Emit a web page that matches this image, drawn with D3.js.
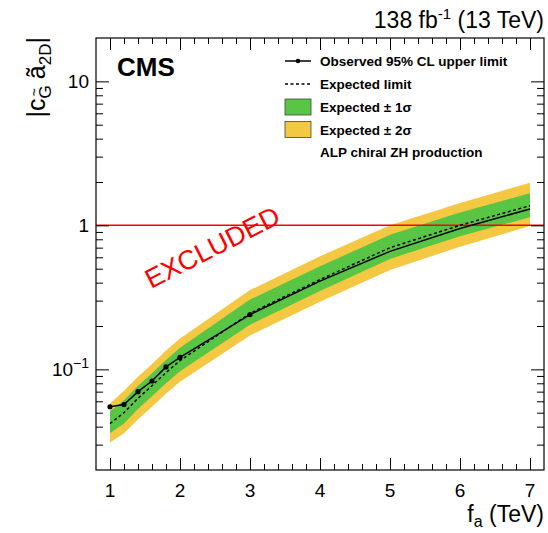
<!DOCTYPE html>
<html>
<head>
<meta charset="utf-8">
<script src="https://cdn.jsdelivr.net/npm/d3@7"></script>
<style>
  body { margin: 0; background: #fff; }
  svg { font-family: "Liberation Sans", Arial, Helvetica, sans-serif; }
</style>
</head>
<body>
<svg id="chart" width="548" height="533"></svg>
<script>
// f_a points (TeV) and limits on |c a_2D|
const faPoints = [1.0, 1.2, 1.4, 1.6, 1.8, 2.0, 3.0, 4.0, 5.0, 6.0, 7.0];
const observed = [0.055, 0.057, 0.070, 0.083, 0.104, 0.121, 0.240, 0.41, 0.66, 0.95, 1.30];
const expected = [0.042, 0.050, 0.063, 0.077, 0.095, 0.115, 0.245, 0.42, 0.70, 1.00, 1.37];
const minus2s  = [0.031, 0.036, 0.045, 0.055, 0.068, 0.082, 0.172, 0.295, 0.49, 0.71, 0.99];
const minus1s  = [0.036, 0.042, 0.053, 0.065, 0.080, 0.097, 0.204, 0.350, 0.585, 0.84, 1.14];
const plus1s   = [0.051, 0.061, 0.077, 0.094, 0.116, 0.141, 0.305, 0.52, 0.86, 1.23, 1.67];
const plus2s   = [0.058, 0.071, 0.089, 0.109, 0.135, 0.164, 0.355, 0.61, 1.00, 1.43, 1.98];
// only the low-mass points carry a visible marker
const markedPoints = [1.0, 1.2, 1.4, 1.6, 1.8, 2.0, 3.0];

const xMajorTicks = [1, 2, 3, 4, 5, 6, 7];
const yMajorTicks = [0.1, 1, 10];
const yTickLabels = ["10|−1", "1", "10"];
const legendLabels = ["Observed 95% CL upper limit", "Expected limit", "Expected ± 1σ", "Expected ± 2σ", "ALP chiral ZH production"];

const green = "#58c545", yellow = "#f5c843";

const svg = d3.select("#chart");
const mLeft = 96, mRight = 544, mTop = 38, mBottom = 470;

let x = d3.scaleLinear().domain([0.8, 7.2]).range([mLeft, mRight]);
let y = d3.scaleLog().domain([0.02, 20]).range([mBottom, mTop]);

let xMinor = d3.range(0.8, 7.2, 0.2).map(v => +v.toFixed(1)).filter(v => v > 0.85 && !xMajorTicks.includes(v));
let yMinor = [];
[0.01, 0.1, 1, 10].forEach(d => { for (let k = 2; k <= 9; k++) { let v = +(d * k).toPrecision(2); if (v > 0.02 && v < 20) yMinor.push(v); } });

svg.append("clipPath").attr("id", "frameClip")
  .append("rect").attr("x", mLeft).attr("y", mTop).attr("width", mRight - mLeft).attr("height", mBottom - mTop);

let plot = svg.append("g").attr("clip-path", "url(#frameClip)");
let rows = faPoints.map((f, i) => ({f, obs: observed[i], exp: expected[i], m2: minus2s[i], m1: minus1s[i], p1: plus1s[i], p2: plus2s[i]}));

// bands
plot.append("path").datum(rows)
  .attr("fill", yellow)
  .attr("d", d3.area().x(d => x(d.f)).y0(d => y(d.m2)).y1(d => y(d.p2)));
plot.append("path").datum(rows)
  .attr("fill", green)
  .attr("d", d3.area().x(d => x(d.f)).y0(d => y(d.m1)).y1(d => y(d.p1)));

// red reference line at 1
plot.append("line")
  .attr("x1", mLeft).attr("x2", mRight).attr("y1", y(1)).attr("y2", y(1))
  .attr("stroke", "#ff0000").attr("stroke-width", 1.5);

// expected (dashed)
plot.append("path").datum(rows)
  .attr("fill", "none").attr("stroke", "#000").attr("stroke-width", 1.5)
  .attr("stroke-dasharray", "3,2.5")
  .attr("d", d3.line().x(d => x(d.f)).y(d => y(d.exp)));

// observed
plot.append("path").datum(rows)
  .attr("fill", "none").attr("stroke", "#000").attr("stroke-width", 1.5)
  .attr("d", d3.line().x(d => x(d.f)).y(d => y(d.obs)));
plot.selectAll(".dot").data(rows.filter(d => markedPoints.includes(d.f))).enter().append("circle")
  .attr("cx", d => x(d.f)).attr("cy", d => y(d.obs)).attr("r", 2.6).attr("fill", "#000");

// frame + ticks (ROOT style, inward on all sides)
function ticks(axisFn, scale, values, size, transform) {
  let g = svg.append("g").attr("transform", transform)
    .call(axisFn(scale).tickValues(values).tickSize(size).tickFormat(""));
  g.select(".domain").remove();
  g.selectAll("line").attr("stroke", "#000");
  return g;
}
ticks(d3.axisBottom, x, xMajorTicks, -12, `translate(0,${mBottom})`);
ticks(d3.axisBottom, x, xMinor, -6, `translate(0,${mBottom})`);
ticks(d3.axisTop, x, xMajorTicks, -12, `translate(0,${mTop})`);
ticks(d3.axisTop, x, xMinor, -6, `translate(0,${mTop})`);
ticks(d3.axisLeft, y, yMajorTicks, -13, `translate(${mLeft},0)`);
ticks(d3.axisLeft, y, yMinor, -7, `translate(${mLeft},0)`);
ticks(d3.axisRight, y, yMajorTicks, -13, `translate(${mRight},0)`);
ticks(d3.axisRight, y, yMinor, -7, `translate(${mRight},0)`);

svg.append("rect").attr("x", mLeft).attr("y", mTop).attr("width", mRight - mLeft).attr("height", mBottom - mTop)
  .attr("fill", "none").attr("stroke", "#000").attr("stroke-width", 1.2);

// tick labels
svg.append("g").selectAll("text").data(xMajorTicks).enter().append("text")
  .attr("x", d => x(d)).attr("y", 497).attr("text-anchor", "middle")
  .attr("font-size", 19).text(d => d);

svg.append("g").selectAll("text").data(yMajorTicks).enter().append("text")
  .attr("x", 89).attr("y", d => y(d) + 7).attr("text-anchor", "end").attr("font-size", 19)
  .each(function(d, i) {
    let parts = yTickLabels[i].split("|");
    let t = d3.select(this);
    t.append("tspan").text(parts[0]);
    if (parts[1]) t.append("tspan").attr("dy", -8).attr("font-size", 14).text(parts[1]);
  });

// axis titles
let xt = svg.append("text").attr("x", mRight).attr("y", 522).attr("text-anchor", "end").attr("font-size", 23);
xt.append("tspan").text("f");
xt.append("tspan").attr("dy", 5).attr("font-size", 16).text("a");
xt.append("tspan").attr("dy", -5).text(" (TeV)");

let yt = svg.append("text").attr("transform", "translate(45,37) rotate(-90)")
  .attr("text-anchor", "end").attr("font-size", 25);
yt.append("tspan").text("|c");
yt.append("tspan").attr("dy", 6).attr("font-size", 17).text("G");
yt.append("tspan").attr("dx", -11).attr("dy", -12).attr("font-size", 14).text("~");
yt.append("tspan").attr("dx", 2).attr("dy", 6).text(" ã");
yt.append("tspan").attr("dy", 6).attr("font-size", 17).text("2D");
yt.append("tspan").attr("dy", -6).text("|");

// top label
let lumi = svg.append("text").attr("x", mRight).attr("y", 28).attr("text-anchor", "end").attr("font-size", 23);
lumi.append("tspan").text("138 fb");
lumi.append("tspan").attr("dy", -9).attr("font-size", 15).text("-1");
lumi.append("tspan").attr("dy", 9).text(" (13 TeV)");

svg.append("text").attr("x", 117).attr("y", 76).attr("font-size", 26).attr("font-weight", "bold").text("CMS");

svg.append("text").attr("transform", "translate(151,289) rotate(-27)")
  .attr("fill", "#ff0000").attr("font-size", 27).text("EXCLUDED");

// legend
const legY = [61, 84, 107, 129.5, 152];
let leg = svg.append("g");
legendLabels.forEach((lab, i) => {
  let cy = legY[i];
  if (i === 0) {
    leg.append("line").attr("x1", 285).attr("x2", 311).attr("y1", cy).attr("y2", cy).attr("stroke", "#000").attr("stroke-width", 1.5);
    leg.append("circle").attr("cx", 298).attr("cy", cy).attr("r", 2.3);
  } else if (i === 1) {
    leg.append("line").attr("x1", 285).attr("x2", 311).attr("y1", cy).attr("y2", cy).attr("stroke", "#000").attr("stroke-width", 1.5).attr("stroke-dasharray", "3,2.5");
  } else if (i < 4) {
    leg.append("rect").attr("x", 285).attr("y", cy - 8).attr("width", 26).attr("height", 16)
      .attr("fill", i === 2 ? green : yellow).attr("stroke", "#444").attr("stroke-width", 0.8);
  }
  leg.append("text").attr("x", 320).attr("y", cy + 5).attr("font-size", 13.5).attr("font-weight", "bold").text(lab);
});
</script>
</body>
</html>
